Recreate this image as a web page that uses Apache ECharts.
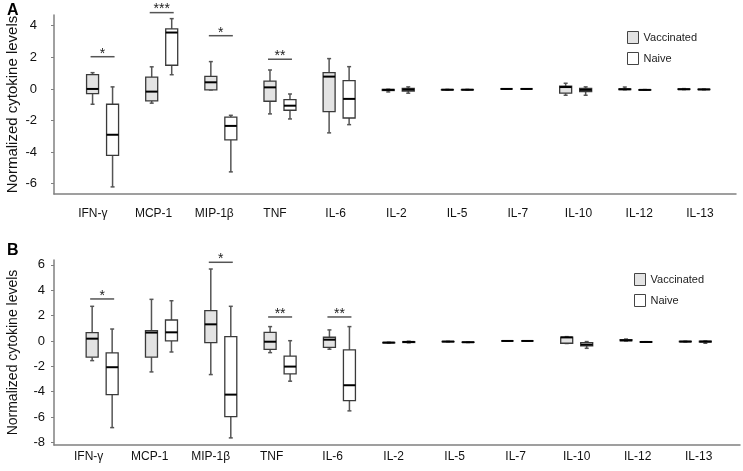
<!DOCTYPE html>
<html>
<head>
<meta charset="utf-8">
<script src="https://cdn.jsdelivr.net/npm/echarts@6/dist/echarts.min.js"></script>
<style>
html, body { margin: 0; padding: 0; background: #fff; }
#main { width: 743px; height: 471px; }
</style>
</head>
<body>
<div id="main"></div>
<script>
var cytokines = ['IFN-γ', 'MCP-1', 'MIP-1β', 'TNF', 'IL-6', 'IL-2', 'IL-5', 'IL-7', 'IL-10', 'IL-12', 'IL-13'];

// each box: [min, Q1, median, Q3, max]
var aVaccinated = [
  [-0.97, -0.3, 0, 0.91, 1.03],
  [-0.9, -0.75, -0.17, 0.75, 1.4],
  [-0.06, -0.06, 0.42, 0.8, 1.73],
  [-1.58, -0.78, 0.1, 0.5, 1.2],
  [-2.78, -1.44, 0.78, 1.03, 1.92],
  [-0.19, -0.1, -0.06, -0.03, -0.02],
  [-0.07, -0.06, -0.05, -0.04, -0.03],
  [-0.01, 0, 0, 0, 0.01],
  [-0.4, -0.27, 0.12, 0.17, 0.36],
  [-0.05, -0.04, -0.02, 0, 0.12],
  [-0.04, -0.03, -0.02, 0, 0.02]
];
var aNaive = [
  [-6.2, -4.2, -2.9, -0.97, 0.13],
  [0.9, 1.5, 3.57, 3.8, 4.45],
  [-5.25, -3.23, -2.34, -1.79, -1.67],
  [-1.9, -1.35, -1.06, -0.68, -0.32],
  [-2.26, -1.84, -0.63, 0.53, 1.41],
  [-0.27, -0.13, -0.04, 0.04, 0.13],
  [-0.07, -0.06, -0.05, -0.04, -0.03],
  [-0.01, 0, 0, 0, 0.01],
  [-0.4, -0.17, -0.06, 0.04, 0.13],
  [-0.08, -0.07, -0.06, -0.05, -0.04],
  [-0.05, -0.04, -0.03, -0.02, -0.01]
];
// [category index, bar height, number of stars]
var aSignif = [[0, 2.04, 1], [1, 4.83, 3], [2, 3.37, 1], [3, 1.88, 2]];
var aTicks = [-6, -4, -2, 0, 2, 4];

var bVaccinated = [
  [-1.55, -1.28, 0.18, 0.65, 2.73],
  [-2.44, -1.28, 0.66, 0.81, 3.28],
  [-2.65, -0.13, 1.31, 2.39, 5.67],
  [-0.92, -0.66, -0.06, 0.68, 1.13],
  [-0.65, -0.5, 0.1, 0.29, 0.87],
  [-0.17, -0.15, -0.13, -0.12, -0.1],
  [-0.07, -0.06, -0.05, -0.04, -0.03],
  [-0.01, 0, 0, 0, 0.01],
  [-0.2, -0.18, 0.28, 0.3, 0.34],
  [0, 0.02, 0.05, 0.1, 0.15],
  [-0.08, -0.06, -0.05, -0.03, -0.02]
];
var bNaive = [
  [-6.83, -4.23, -2.07, -0.94, 0.94],
  [-0.87, 0, 0.68, 1.65, 3.17],
  [-7.64, -5.96, -4.23, 0.34, 2.73],
  [-3.17, -2.6, -2.02, -1.2, 0.02],
  [-5.51, -4.7, -3.49, -0.71, 1.13],
  [-0.15, -0.12, -0.08, -0.05, -0.02],
  [-0.12, -0.11, -0.1, -0.09, -0.08],
  [-0.01, 0, 0, 0, 0.01],
  [-0.58, -0.39, -0.29, -0.13, -0.05],
  [-0.1, -0.09, -0.08, -0.07, -0.06],
  [-0.18, -0.08, -0.05, -0.02, 0]
];
var bSignif = [[0, 3.31, 1], [2, 6.2, 1], [3, 1.89, 2], [4, 1.89, 2]];
var bTicks = [-8, -6, -4, -2, 0, 2, 4, 6];

var vaccFill = '#e3e3e3';
var naiveFill = '#ffffff';
var boxWidth = 12;

function boxRender(offset, fill) {
  return function (params, api) {
    var cat = api.value(0);
    var x = api.coord([cat, 0])[0] + offset;
    var yMin = api.coord([cat, api.value(1)])[1];
    var yQ1 = api.coord([cat, api.value(2)])[1];
    var yMed = api.coord([cat, api.value(3)])[1];
    var yQ3 = api.coord([cat, api.value(4)])[1];
    var yMax = api.coord([cat, api.value(5)])[1];
    var h = boxWidth / 2;
    var ws = { stroke: '#555', lineWidth: 1.5 };
    return {
      type: 'group',
      children: [
        { type: 'line', shape: { x1: x, y1: yMax, x2: x, y2: yQ3 }, style: ws },
        { type: 'line', shape: { x1: x, y1: yQ1, x2: x, y2: yMin }, style: ws },
        { type: 'line', shape: { x1: x - 2, y1: yMax, x2: x + 2, y2: yMax }, style: ws },
        { type: 'line', shape: { x1: x - 2, y1: yMin, x2: x + 2, y2: yMin }, style: ws },
        { type: 'rect', shape: { x: x - h, y: yQ3, width: boxWidth, height: yQ1 - yQ3 },
          style: { fill: fill, stroke: '#3a3a3a', lineWidth: 1.3 } },
        { type: 'line', shape: { x1: x - h, y1: yMed, x2: x + h, y2: yMed },
          style: { stroke: '#000', lineWidth: 2 } }
      ]
    };
  };
}

function signifRender(params, api) {
  var c = api.coord([api.value(0), api.value(1)]);
  var n = api.value(2);
  return {
    type: 'group',
    children: [
      { type: 'line', shape: { x1: c[0] - 12, y1: c[1], x2: c[0] + 12, y2: c[1] },
        style: { stroke: '#555', lineWidth: 1.5 } },
      { type: 'text', x: c[0], y: c[1] - 10,
        style: { text: new Array(n + 1).join('*'), fill: '#222', fontSize: 14,
                 align: 'center', verticalAlign: 'top', fontFamily: 'Liberation Sans' } }
    ]
  };
}

// three grids per panel: frame (axes lines + y labels), x labels, boxes
var panels = [
  { top: 15, height: 179, min: -6.65, max: 4.68, ticks: aTicks, labelMargin: 17, nameSize: 15,
    labelGrid: [62.5, 12.7], dataGrid: [73, 19.5], frameRight: 7, xMargin: 14,
    vacc: aVaccinated, naive: aNaive, signif: aSignif },
  { top: 260, height: 185, min: -8.2, max: 6.38, ticks: bTicks, labelMargin: 9, nameSize: 14,
    labelGrid: [58.2, 13.8], dataGrid: [72.5, 18], frameRight: 3, xMargin: 6,
    vacc: bVaccinated, naive: bNaive, signif: bSignif }
];

var grid = [], xAxis = [], yAxis = [], series = [];
panels.forEach(function (p, k) {
  var g = k * 3;
  grid.push({ left: 54, right: p.frameRight, top: p.top, height: p.height, outerBoundsMode: 'none' });
  grid.push({ left: p.labelGrid[0], right: p.labelGrid[1], top: p.top, height: p.height, outerBoundsMode: 'none' });
  grid.push({ left: p.dataGrid[0], right: p.dataGrid[1], top: p.top, height: p.height, outerBoundsMode: 'none' });

  xAxis.push({ type: 'category', gridIndex: g, data: cytokines,
    axisLine: { onZero: false, lineStyle: { color: '#808080', width: 1.5 } },
    axisTick: { show: false }, axisLabel: { show: false } });
  xAxis.push({ type: 'category', gridIndex: g + 1, data: cytokines,
    axisLine: { show: false, onZero: false }, axisTick: { show: false },
    axisLabel: { color: '#111', fontSize: 12, margin: p.xMargin, interval: 0 } });
  xAxis.push({ type: 'category', gridIndex: g + 2, data: cytokines, show: false });

  yAxis.push({ type: 'value', gridIndex: g, min: p.min, max: p.max,
    splitLine: { show: false },
    axisLine: { show: true, onZero: false, lineStyle: { color: '#808080', width: 1.5 } },
    axisTick: { show: true, length: 3, customValues: p.ticks, lineStyle: { color: '#808080' } },
    axisLabel: { customValues: p.ticks, margin: p.labelMargin, fontSize: 13, color: '#111' },
    name: 'Normalized cytokine levels', nameLocation: 'middle', nameGap: 34,
    nameMoveOverlap: false,
    nameTextStyle: { fontSize: p.nameSize, color: '#111' } });
  yAxis.push({ type: 'value', gridIndex: g + 1, min: p.min, max: p.max, show: false });
  yAxis.push({ type: 'value', gridIndex: g + 2, min: p.min, max: p.max, show: false });

  series.push({ name: 'Vaccinated', type: 'custom', xAxisIndex: g + 2, yAxisIndex: g + 2,
    renderItem: boxRender(-10, vaccFill), itemStyle: { color: vaccFill },
    encode: { x: 0, y: [1, 2, 3, 4, 5] },
    data: p.vacc.map(function (d, i) { return [i].concat(d); }) });
  series.push({ name: 'Naive', type: 'custom', xAxisIndex: g + 2, yAxisIndex: g + 2,
    renderItem: boxRender(10, naiveFill), itemStyle: { color: naiveFill },
    encode: { x: 0, y: [1, 2, 3, 4, 5] },
    data: p.naive.map(function (d, i) { return [i].concat(d); }) });
  series.push({ type: 'custom', xAxisIndex: g + 2, yAxisIndex: g + 2, clip: false,
    renderItem: signifRender, encode: { x: 0, y: 1 }, data: p.signif });
});

function legendFor(left, top) {
  return {
    orient: 'vertical', left: left, top: top, itemWidth: 11, itemHeight: 12, itemGap: 8,
    icon: 'rect', selectedMode: false, padding: 0,
    textStyle: { fontSize: 11, color: '#222' },
    data: [
      { name: 'Vaccinated', itemStyle: { color: vaccFill, borderColor: '#444', borderWidth: 1 } },
      { name: 'Naive', itemStyle: { color: naiveFill, borderColor: '#444', borderWidth: 1 } }
    ]
  };
}

var chart = echarts.init(document.getElementById('main'));
chart.setOption({
  animation: false,
  textStyle: { fontFamily: 'Liberation Sans, Arial, sans-serif' },
  title: [
    { text: 'A', left: 7, top: 3, padding: 0, textStyle: { fontSize: 16, fontWeight: 'bold', color: '#000' } },
    { text: 'B', left: 7, top: 243, padding: 0, textStyle: { fontSize: 16, fontWeight: 'bold', color: '#000' } }
  ],
  legend: [legendFor(627, 31), legendFor(634, 273)],
  grid: grid,
  xAxis: xAxis,
  yAxis: yAxis,
  series: series
});
</script>
</body>
</html>
